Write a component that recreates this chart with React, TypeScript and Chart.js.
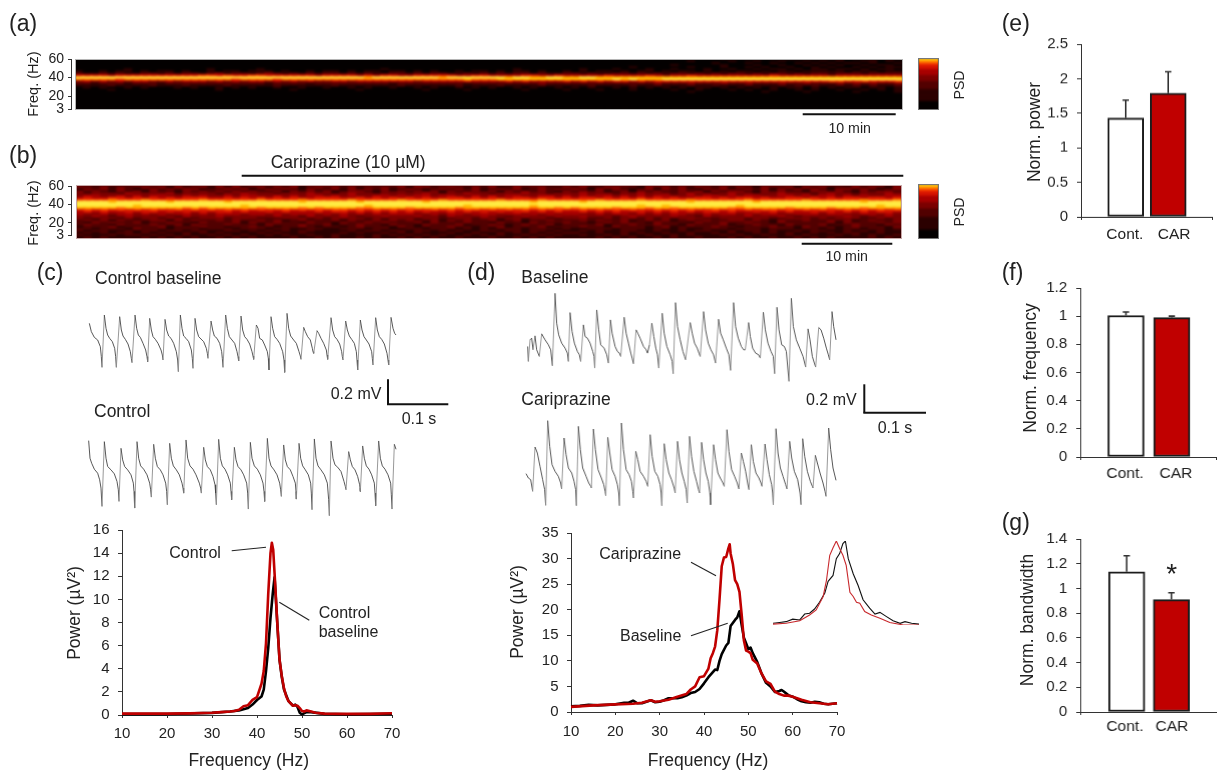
import React, { useEffect, useRef } from "react";
import { Chart, registerables } from "chart.js";

Chart.register(...registerables);

const FONT = '"Liberation Sans", Arial, sans-serif';
const INK = "#222";
const RED = "#c00000";

// ---------- (a), (b) spectrograms: PSD level 0-9 per frequency row (top = 60 Hz) and time column ----------
const psdColors = ["#040000", "#2c0000", "#520000", "#7c0000", "#a80000", "#d61400", "#f23400", "#ff7400", "#ffb400", "#ffec44"];
const spectrogramA = [
  "0000000000 0000000000 0000000000 0000000000 0000000000 0000000000 0000000000 0000000010 0100101101 0110101011",
  "0000000000 0000000000 0000000000 0000000000 0000000000 0000000000 0000000000 0000100001 0010010010 1010011010",
  "0000000000 0000000000 0000000000 0000000000 0000000000 0000000000 0000000000 0000000100 0100100101 0101101001",
  "0000000000 0000000000 0000000000 0000000000 0000000000 0000000000 0000000000 0010000010 0010010010 1010010110",
  "0000000000 0000000000 0000000000 0000000000 0000000000 0000000000 0000000100 0000100010 0101001001 0100101011",
  "0000001000 0000001000 0010000000 0000000100 0000000000 0001000000 0100010001 0010001001 0010110101 1011010110",
  "1001011010 1101001011 0111010010 1101011011 0101001011 0101101001 0101101011 0101101010 1101011011 1110111011",
  "2112121122 1212212312 2123212121 2212121122 1212211212 1212212112 2121122121 2122121212 2121221212 2122212222",
  "5555455555 5555566565 5665555554 5555454554 4555554455 4444554454 4444544445 4344544444 4444544444 4344444444",
  "9999999999 9999999999 9999999999 9999989999 9999899999 9989988998 8998888888 8888888888 8888888888 8888888888",
  "7777767777 7777777776 7777677777 7777777777 7777777877 7888888888 8888898988 8999999999 9999999999 9999999999",
  "3434343443 3434443434 3443434343 3443444444 4344444544 4454544445 4545455454 5555555555 5555555555 5665565556",
  "2212221222 1222222222 2221222212 2222222212 2222222122 2222223222 2222222222 3222322232 2322232232 2232323223",
  "1111211112 1112111121 1111211111 1211111112 1111112111 1211112111 1121111211 2111211211 1211121212 1121212112",
  "0101001010 0010100101 0100100100 1001010010 0101001010 1001010010 1010010101 0101011010 1010101101 0101101101",
  "0000100000 0000000100 0000001000 0000100000 0010000100 0000100001 0001000100 0010010001 0100100101 0010010101",
  "0000000000 0000000000 0000000000 0000000000 0000000000 0000000000 0000000000 0000100000 0001000010 0000100001",
  "",
  "",
  "",
  "",
  "",
  "",
  "",
  "",
];
const spectrogramB = [
  "2312312323 2231322313 1323223132 3212332123 2321323321 3213232132 2331223213 3212323123 2312332123 2321322313",
  "3223132232 3132231323 2231323123 2323122323 1332232132 3123223213 2312332213 2323132231 3213223132 3122323213",
  "1323232123 2323312232 3123232132 2313232312 3212323231 2323123232 3213232123 1323213232 2323132323 2133232123",
  "3232132313 2213232323 2322313232 3123321323 2323132232 3132323213 2323123132 3223231323 3213232213 3232132332",
  "3233324333 3423333233 4333233343 3234332333 3343233433 2333433233 3433323343 3323433234 3323343332 3433233343",
  "3443343434 4334343343 4433434344 3434334434 3443443343 4344334434 3434434343 4433434434 3443344343 4434343344",
  "4544554545 4545554454 5454545445 5544545454 5454455454 5445545545 4554545454 5454455454 5545445545 4545545545",
  "6666766676 6666676666 6676666766 6667666667 6666766666 6766667666 6667666676 6666766666 6766666676 6666676667",
  "9999899999 9899999989 9999999899 9999899999 9989999999 9999989999 9899999999 9999899999 9989999999 9999989999",
  "9999999999 9999999999 9999999999 9999999999 9999999999 9999999999 9999999999 9999999999 9999999999 9999999999",
  "9999999899 9999999999 8999999999 9999989999 9999999899 9999989999 9999999989 9899999999 8999999999 9999999899",
  "8888878888 8887878888 8878888787 8888778888 7888887888 8888878878 7888878887 8878888887 7888887888 8788878888",
  "5656565656 5565656565 6565565656 5665656565 6556565665 6565656565 5656565655 6565655656 5656656565 6556565656",
  "4545445455 4545454554 5445454445 4554545454 5454454545 4545545454 4545454454 5454545545 4454545445 4545454554",
  "4334344343 4344343444 3443434443 4343434344 4334344344 4344343434 4334344343 4344334344 3434433444 3443344343",
  "3343234333 3324333433 3333433243 3343233433 3433243334 3323433343 3433323433 3343324333 3433343233 3334323343",
  "3223323233 2332233323 3322233323 2333323233 3233223323 3233233223 3322323323 2323332233 3233223332 3233322323",
  "2323132223 3132322323 2232312322 2313223232 3223132322 3123122322 2323223123 2312323223 3232132232 2323123223",
  "2132322312 2322132223 1322322132 2132232322 2313222322 1322132223 2212323221 3222132232 2322132222 2313222323",
  "2322132223 2231322232 2213222322 3122322132 2132223122 3212322312 2223122322 3221322231 2232213222 3122322132",
  "1222312222 3122232212 2322122321 2212322213 2122232212 2312223122 2322132221 2312222322 1222322132 2212322213",
  "2212221322 2122212221 2221221122 1122212211 2212221212 1222122212 1122212221 2212112221 2221222122 1212212212",
  "2122112122 1221221122 1212121221 1112122122 1221212112 2122122121 1212112211 2112122112 1221211212 2112121211",
  "1212122121 2112121211 1121211211 1121211212 1211121121 1212121212 2112112121 1211211212 1121212112 1212211211",
  "2111212212 1212112121 2112121121 1211112121 2121211212 1211212121 1211212112 1121211121 2112112121 1121212112",
  "1212111121 2121211212 1211112112 1211212112 1212112111 2112121211 1112121211 2121121112 1211211212 1211112121",
];
const colorbarLevels = ["9", "8", "7", "6", "5", "5", "4", "4", "4", "3", "3", "3", "2", "2", "2", "2", "1", "1", "1", "1", "1", "1", "0", "0", "0", "0"];
const freqTicks = [60, 40, 20];
const freqTickLabels = ["60", "40", "20", "3"];

// ---------- (c), (d) field-potential traces: [sample, amplitude counts] pairs ----------
const traceControlBaseline = [
  207,210,213,185,222,168,232,160,240,140,243,110,245,78,
  252,235,257,195,262,175,268,165,276,155,283,135,286,110,288,78,
  298,230,303,190,308,172,315,162,323,148,330,125,333,105,335,92,
  344,235,349,195,354,175,360,168,368,150,376,130,380,110,382,95,
  388,225,393,190,398,170,405,162,413,150,422,130,426,115,428,100,
  434,222,439,190,445,172,452,165,460,150,468,125,472,100,474,65,
  480,235,485,195,490,172,497,165,505,155,513,130,516,105,518,75,
  524,225,529,190,535,170,542,163,550,155,558,135,561,120,563,105,
  572,217,577,190,582,172,590,165,598,150,604,125,606,105,608,78,
  616,235,621,195,627,170,635,160,643,150,650,125,653,110,655,97,
  662,232,667,190,673,170,680,162,688,148,695,125,698,112,700,102,
  708,205,713,195,718,165,726,160,733,145,741,125,744,105,746,70,
  752,230,757,195,763,170,770,162,778,150,787,125,791,100,793,63,
  800,240,805,195,811,172,820,160,828,150,836,125,840,112,842,102,
  850,198,855,185,862,170,870,160,876,135,878,125,880,120,
  890,188,895,180,902,165,910,150,918,130,920,115,922,102,
  932,227,937,190,943,170,950,162,958,148,964,125,966,110,968,100,
  976,217,981,190,987,172,994,162,1002,150,1008,125,1010,100,1012,70,
  1020,220,1025,190,1031,170,1038,160,1046,148,1054,125,1056,105,1058,85,
  1066,227,1071,190,1077,170,1084,162,1092,148,1100,120,1103,100,1105,85,
  1112,228,1118,195,1123,180,1127,175,
];
const traceControl = [
  205,258,209,205,214,190,222,172,232,160,238,140,242,115,245,60,
  252,255,257,205,262,180,272,170,282,158,290,135,294,110,296,75,
  302,235,307,200,313,180,322,170,332,155,339,130,341,105,343,55,
  350,255,355,205,361,182,370,172,380,155,388,130,391,110,393,88,
  400,247,405,205,411,180,420,170,428,155,436,130,439,105,441,65,
  448,250,453,205,459,182,468,170,477,155,485,130,488,115,490,100,
  497,260,502,205,509,182,518,172,527,155,537,130,541,115,543,100,
  550,238,555,200,561,180,570,170,578,150,584,125,586,100,588,65,
  595,262,600,205,606,182,614,172,622,155,630,130,632,105,634,80,
  642,238,647,200,653,180,662,170,670,155,679,130,682,100,684,52,
  690,253,695,205,702,182,711,172,720,155,728,130,731,105,733,75,
  741,265,746,205,752,182,761,170,770,155,778,130,781,110,783,90,
  790,245,795,200,801,180,810,170,818,150,825,130,827,105,828,82,
  836,250,841,205,847,182,855,170,864,155,871,130,873,100,875,50,
  882,263,887,205,893,182,902,170,912,155,921,130,925,80,927,32,
  932,257,938,205,944,185,952,178,962,165,971,135,975,120,977,110,
  985,225,990,200,996,180,1004,170,1012,150,1018,125,1019,115,1020,105,
  1027,242,1032,205,1038,182,1046,172,1054,155,1062,130,1064,100,1066,62,
  1075,257,1080,205,1086,182,1094,172,1103,155,1111,130,1113,95,1115,52,
  1122,247,1127,232,
];
const traceBaseline = [
  203,140,205,95,210,160,215,165,219,130,225,172,230,130,238,110,245,178,255,160,265,145,272,130,277,82,
  285,300,290,210,296,175,305,150,315,135,322,120,325,95,
  330,242,336,185,343,150,352,125,358,115,362,95,
  370,205,375,170,382,165,390,150,398,125,402,110,404,75,
  410,250,416,190,422,145,432,135,440,115,445,90,
  451,220,456,180,465,140,472,125,478,120,482,110,
  492,228,498,180,505,150,512,120,516,105,520,88,
  528,190,533,180,540,165,550,140,558,130,562,120,
  568,145,575,210,581,170,587,135,592,115,596,75,
  606,240,612,180,620,140,630,115,636,95,639,58,
  646,272,652,200,660,160,668,125,673,110,676,100,
  690,212,696,180,703,150,711,135,717,118,720,110,
  730,245,736,190,744,150,752,130,760,115,766,90,
  775,222,781,180,789,160,798,135,806,115,811,68,
  820,272,826,200,834,165,843,140,850,130,855,130,
  865,212,870,170,877,135,886,120,895,115,900,105,
  909,243,915,190,923,150,932,125,939,110,943,58,
  950,258,956,190,964,145,972,140,978,125,986,35,
  993,285,999,200,1008,160,1018,135,1028,110,1036,78,
  1043,193,1049,160,1056,110,1062,90,1066,78,
  1075,197,1082,190,1090,165,1098,135,1104,115,1108,100,
  1115,245,1120,200,1127,160,
];
const traceCariprazine = [
  198,158,205,145,212,140,218,105,225,238,232,220,240,180,248,140,254,110,257,63,
  263,317,269,240,276,185,285,165,295,150,302,130,305,112,
  312,265,318,215,325,175,335,160,342,135,347,110,349,62,
  355,300,361,230,368,175,378,150,386,130,392,120,394,115,
  400,292,406,230,414,170,424,145,431,125,435,105,437,92,
  443,267,449,220,456,170,465,150,472,125,476,100,478,62,
  484,310,490,230,498,170,507,155,514,135,518,105,520,85,
  527,225,533,200,540,165,550,150,558,135,563,120,
  570,275,576,210,584,165,593,150,600,125,603,100,605,62,
  612,248,618,200,626,160,634,140,642,115,645,100,
  652,255,658,200,665,160,672,135,678,110,681,70,
  688,270,694,210,701,165,709,135,715,110,718,100,
  724,252,730,200,737,160,744,135,749,100,751,65,
  760,245,766,200,773,160,780,145,788,130,792,120,
  800,290,806,225,814,170,823,150,831,130,836,112,
  843,220,849,195,856,165,862,130,866,110,
  873,245,879,195,887,160,896,145,902,130,905,120,
  914,247,920,200,927,155,934,125,937,100,939,65,
  947,293,953,220,960,175,968,150,976,125,980,112,
  988,255,994,205,1002,165,1012,140,1019,100,1022,65,
  1027,263,1033,210,1041,165,1050,135,1056,120,1058,115,
  1065,213,1071,190,1079,160,1088,130,1094,105,1097,90,
  1105,295,1111,230,1118,175,1127,138,
];

// ---------- (c) power spectra ----------
const cFreqRed = [10,15,20,25,28,30,32,34,35,36,37,38,39,40,41,41.5,42,42.5,43,43.3,43.6,44,44.5,45,45.5,46,46.5,47,48,48.5,49,49.5,50,50.5,51,52,53,55,60,65,70];
const cPowerRed = [0.12,0.12,0.12,0.14,0.17,0.2,0.25,0.3,0.35,0.45,0.75,0.85,1.3,1.55,2.7,3.8,6.2,10.5,14,14.9,14.3,11.6,8,4.8,3.4,2.3,1.6,1.2,0.8,0.85,0.8,0.6,0.35,0.3,0.4,0.3,0.2,0.12,0.1,0.1,0.15];
const cFreqBlack = [10,20,30,34,36,37,38,39,40,41,41.5,42,42.5,43,43.5,43.9,44.2,44.5,45,45.5,46,47,48,48.5,49,49.5,50,51,52,55,60,70];
const cPowerBlack = [0.08,0.08,0.18,0.3,0.4,0.5,0.6,0.9,1.3,1.6,2.2,3.8,5.8,8.4,10.5,11.9,10,8,4.8,3.3,2.2,1.2,0.8,0.9,0.7,0.2,0.05,0.25,0.25,0.1,0.05,0.1];

// ---------- (d) power spectra ----------
const dFreqBaseline = [10,12,14,16,18,20,22,23,24,25,26,27,28,29,30,31,32,33,34,35,36,37,38,39,40,41,42,42.5,43,43.5,44,45,45.5,46,47,47.5,48,48.5,49,50,50.5,51,52,53,54,55,56,57,57.5,58,59,60,61,62,63,64,65,66,67,68,69,70];
const dPowerBaseline = [1.1,1.2,1.4,1.3,1.4,1.5,1.8,1.8,2.2,1.7,1.7,2,2.3,1.9,2,2.3,2.7,2.7,2.7,2.9,3.2,3.7,3.9,4.5,5.6,6.8,7.8,8.3,8.2,10,11.3,13,13.5,16.8,18,18.5,19.7,17,14.5,12.3,12.6,11.5,9.8,7.5,5.7,5,3.9,4.1,4.3,4,3.3,3,2.5,2.1,1.9,1.8,2,1.9,1.6,1.5,1.6,1.7];
const dFreqCar = [10,15,20,24,26,28,29,30,32,34,36,37,38,39,40,41,41.5,42,42.5,43,43.5,44,44.5,45,45.5,45.8,46,46.5,47,47.5,48,48.5,49,49.5,50,50.5,51,52,53,54,55,56,57,58,59,60,62,64,66,68,70];
const dPowerCar = [1,1.3,1.5,1.6,1.8,2.3,2,2.1,2.4,3,3.5,4.4,5,6.8,7,8.5,10.5,11.5,12.8,16,22,28.5,30.2,30.3,32,32.8,31,29,25.8,25,23.5,19,14,12,11.8,11.5,10.2,9.5,7.5,6,5.5,4,3.5,3.2,3.2,3,2.4,1.9,1.7,1.5,1.7];

// ---------- (d) inset: normalised spectra ----------
const insetFreqBlack = [30.4,32,33.6,35.2,36.9,38.1,39.3,40.5,41.7,43,43.8,45,45.8,46.6,47.4,48,48.7,49.9,51.1,52.3,53.9,55.2,56.4,58,59.6,61.3,62.5,64.1,65.9];
const insetPowerBlack = [0.02,0.03,0.04,0.07,0.06,0.13,0.14,0.19,0.27,0.38,0.52,0.59,0.79,0.85,0.97,1,0.79,0.61,0.47,0.3,0.2,0.13,0.15,0.1,0.05,0.02,0.04,0.02,0.01];
const insetFreqRed = [30.4,33.6,36.9,39.3,40.9,42.6,43.4,44.2,45,45.8,46.6,47.4,48.2,49.1,49.9,50.7,51.5,52.7,54.3,56.4,58.8,62.1,65.9];
const insetPowerRed = [0.01,0.02,0.05,0.12,0.18,0.34,0.53,0.83,0.92,1,0.91,0.83,0.71,0.39,0.34,0.27,0.26,0.16,0.12,0.08,0.03,0,0];

// ---------- (e), (f), (g) bars ----------
const barNames = ["Cont.", "CAR"];
const normPower = [1.43, 1.79];
const normPowerTop = [1.69, 2.1];
const normFrequency = [1.005, 0.99];
const normFrequencyTop = [1.03, 1.0];
const normBandwidth = [1.135, 0.91];
const normBandwidthTop = [1.265, 0.965];

const zip = (xs: number[], ys: number[]) => xs.map((x, i) => ({ x, y: ys[i] }));
const pairs = (flat: number[]) => {
  const out: { x: number; y: number }[] = [];
  for (let i = 0; i + 1 < flat.length; i += 2) out.push({ x: flat[i], y: flat[i + 1] });
  return out;
};
const fmt = (v: number) => String(Number(Number(v).toFixed(2)));

type Rect = { x: number; y: number; w: number; h: number };
type Margin = { l: number; r: number; t: number; b: number };
const NOM: Margin = { l: 0, r: 0, t: 0, b: 0 };

function ChartBox({ rect, m = NOM, config, style }: { rect: Rect; m?: Margin; config: any; style?: any }) {
  const ref = useRef<HTMLCanvasElement>(null);
  useEffect(() => {
    const chart = new Chart(ref.current as HTMLCanvasElement, config);
    return () => chart.destroy();
  }, []);
  return (
    <canvas
      ref={ref}
      width={rect.w + m.l + m.r}
      height={rect.h + m.t + m.b}
      style={{ position: "absolute", display: "block", left: rect.x - m.l, top: rect.y - m.t, width: rect.w + m.l + m.r, height: rect.h + m.t + m.b, ...style }}
    />
  );
}

const baseOptions = (m: Margin, bottomPad = 0) => ({
  responsive: false,
  animation: false,
  events: [],
  devicePixelRatio: 1,
  layout: { autoPadding: false, padding: { top: m.t, right: m.r, left: 0, bottom: bottomPad } },
  plugins: { legend: { display: false }, tooltip: { enabled: false }, title: { display: false } },
});

const axisCommon = {
  border: { display: true, color: "#333", width: 1 },
  grid: { display: true, drawOnChartArea: false, drawTicks: true, tickLength: 4, color: "#333", offset: false },
};

const tickFont = { family: FONT, size: 15 };

function heatConfig(rows: string[]) {
  const parsed = rows.map((r) => r.replace(/ /g, ""));
  const cols = Math.max(...parsed.map((r) => r.length));
  const labels = Array.from({ length: cols }, (_, i) => i);
  const datasets = parsed
    .slice()
    .reverse()
    .map((row) => ({
      data: labels.map(() => 1),
      backgroundColor: labels.map((i) => psdColors[Number(row[i] ?? "0")]),
      borderWidth: 0,
      inflateAmount: 1,
      barPercentage: 1,
      categoryPercentage: 1,
    }));
  return {
    type: "bar",
    data: { labels, datasets },
    options: {
      ...baseOptions(NOM),
      scales: {
        x: { display: false, stacked: true },
        y: { display: false, stacked: true, min: 0, max: parsed.length },
      },
    },
  };
}

function freqAxisConfig(axisMin: number, m: Margin) {
  return {
    type: "scatter",
    data: { datasets: [{ data: [] }] },
    options: {
      ...baseOptions(m, m.b),
      scales: {
        x: { display: false, min: 0, max: 1 },
        y: {
          min: axisMin,
          max: 60,
          position: "left",
          afterFit: (s: any) => { s.width = m.l; },
          afterBuildTicks: (s: any) => { s.ticks = [...freqTicks, axisMin].map((value) => ({ value })); },
          ticks: {
            autoSkip: false,
            color: INK,
            padding: 4,
            font: { family: FONT, size: 14 },
            callback: (_: any, i: number) => freqTickLabels[i],
          },
          ...axisCommon,
          grid: { ...axisCommon.grid, tickLength: 3 },
        },
      },
    },
  };
}

function traceConfig(flat: number[], xMin: number, xMax: number, yMin: number, yMax: number) {
  return {
    type: "scatter",
    data: {
      datasets: [
        {
          data: pairs(flat),
          showLine: true,
          borderColor: "#444",
          borderWidth: 0.9,
          pointRadius: 0,
          clip: false,
          segment: { borderColor: (c: any) => (c.p1.parsed.y - c.p0.parsed.y > 40 ? "#8c8c8c" : "#444") },
        },
      ],
    },
    options: {
      ...baseOptions(NOM),
      scales: { x: { display: false, min: xMin, max: xMax }, y: { display: false, min: yMin, max: yMax } },
    },
  };
}

function spectrumConfig(series: { d: any[]; color: string }[], m: Margin, yMax: number, yStep: number, xPad: number) {
  return {
    type: "scatter",
    data: {
      datasets: series.map((s) => ({ data: s.d, showLine: true, borderColor: s.color, borderWidth: 2.6, borderJoinStyle: "round", pointRadius: 0, clip: false })),
    },
    options: {
      ...baseOptions(m),
      scales: {
        x: {
          type: "linear",
          min: 10,
          max: 70,
          afterFit: (s: any) => { s.height = m.b; },
          ticks: { stepSize: 10, color: INK, font: tickFont, padding: xPad, maxRotation: 0 },
          ...axisCommon,
          grid: { ...axisCommon.grid, tickLength: 3 },
        },
        y: {
          min: 0,
          max: yMax,
          afterFit: (s: any) => { s.width = m.l; },
          ticks: { stepSize: yStep, color: INK, font: tickFont, padding: 8.5, callback: (v: number) => fmt(v) },
          ...axisCommon,
        },
      },
    },
  };
}

function insetConfig() {
  return {
    type: "scatter",
    data: {
      datasets: [
        { data: zip(insetFreqRed, insetPowerRed), showLine: true, borderColor: "#c8282c", borderWidth: 1.1, pointRadius: 0, clip: false },
        { data: zip(insetFreqBlack, insetPowerBlack), showLine: true, borderColor: "#111", borderWidth: 1.1, pointRadius: 0, clip: false },
      ],
    },
    options: {
      ...baseOptions(NOM),
      scales: { x: { display: false, min: 30.4, max: 65.9 }, y: { display: false, min: 0, max: 1 } },
    },
  };
}

function barConfig(values: number[], tops: number[], m: Margin, xMin: number, xMax: number, labelPos: number[], yMax: number, yStep: number, labelPad: number) {
  const errorBars = {
    id: "errorBars",
    afterDatasetsDraw(chart: any) {
      const { ctx, scales } = chart;
      ctx.save();
      ctx.strokeStyle = "#333";
      ctx.lineWidth = 1.6;
      values.forEach((v, i) => {
        const x = scales.x.getPixelForValue(i + 1);
        const y0 = scales.y.getPixelForValue(v);
        const y1 = scales.y.getPixelForValue(tops[i]);
        ctx.beginPath();
        ctx.moveTo(x, y0);
        ctx.lineTo(x, y1);
        ctx.moveTo(x - 3.2, y1);
        ctx.lineTo(x + 3.2, y1);
        ctx.stroke();
      });
      ctx.restore();
    },
  };
  return {
    type: "bar",
    data: {
      datasets: [
        {
          data: values.map((y, i) => ({ x: i + 1, y })),
          backgroundColor: ["#ffffff", RED],
          borderColor: "#1c1c1c",
          borderWidth: 2,
          borderSkipped: false,
          barThickness: 36,
        },
      ],
    },
    plugins: [errorBars],
    options: {
      ...baseOptions(m),
      scales: {
        x: {
          type: "linear",
          offset: false,
          min: xMin,
          max: xMax,
          afterFit: (s: any) => { s.height = m.b; },
          afterBuildTicks: (s: any) => { s.ticks = [xMin, labelPos[0], labelPos[1], xMax].map((value) => ({ value })); },
          ticks: {
            autoSkip: false,
            maxRotation: 0,
            color: INK,
            font: { family: FONT, size: 15.5 },
            padding: labelPad,
            callback: (_: any, i: number) => (i === 1 || i === 2 ? barNames[i - 1] : ""),
          },
          ...axisCommon,
          grid: {
            ...axisCommon.grid,
            tickLength: 3,
            tickColor: (c: any) => (c.index === 0 || c.index === 3 ? "#333" : "rgba(0,0,0,0)"),
          },
        },
        y: {
          min: 0,
          max: yMax,
          afterFit: (s: any) => { s.width = m.l; },
          ticks: { stepSize: yStep, color: INK, font: tickFont, padding: 9, callback: (v: number) => fmt(v) },
          ...axisCommon,
        },
      },
    },
  };
}

function Txt({ x, y, size = 17.5, anchor = "left", rotate = false, children }: any) {
  const shift = anchor === "center" ? "-50%" : "0";
  const transform = rotate ? "translate(-50%,-50%) rotate(-90deg)" : `translate(${shift},-50%)`;
  return (
    <div style={{ position: "absolute", left: x, top: y, transform, fontFamily: FONT, fontSize: size, color: INK, whiteSpace: "nowrap", lineHeight: 1 }}>
      {children}
    </div>
  );
}

function Heat({ rect, rows, bg, border }: { rect: Rect; rows: string[]; bg: string; border: string }) {
  return (
    <div style={{ position: "absolute", left: rect.x, top: rect.y, width: rect.w, height: rect.h, overflow: "hidden", background: bg }}>
      <ChartBox rect={{ x: 0, y: 0, w: rect.w, h: rect.h }} config={heatConfig(rows)} style={{ filter: "blur(0.8px)" }} />
      <div style={{ position: "absolute", inset: 0, border: `1px solid ${border}`, boxSizing: "border-box" }} />
    </div>
  );
}

const segs = [
  // scale bars and drug bar
  [241.7, 175.7, 903.3, 175.7, 2, "#111"],
  [802.7, 114.3, 895.7, 114.3, 2, "#111"],
  [801.7, 243.7, 892.3, 243.7, 2, "#111"],
  [388, 379.3, 388, 404.3, 2, "#111"],
  [387, 404.3, 448.3, 404.3, 2, "#111"],
  [864.3, 384.3, 864.3, 412.7, 2, "#111"],
  [863.3, 412.7, 926, 412.7, 2, "#111"],
  // call-out lines
  [231.7, 550.7, 266, 547.3, 1.1, "#222"],
  [279.3, 602.3, 309.3, 620.3, 1.1, "#222"],
  [691, 562.3, 716, 575.7, 1.1, "#222"],
  [691, 635.7, 727.7, 623.3, 1.1, "#222"],
] as const;

const mC: Margin = { l: 50, r: 24, t: 24, b: 30 };
const mE: Margin = { l: 36, r: 8, t: 24, b: 28 };
const mF: Margin = { l: 40, r: 8, t: 24, b: 28 };
const mFreq: Margin = { l: 38, r: 1, t: 20, b: 20 };

export default function App() {
  return (
    <div style={{ position: "absolute", left: 0, top: 0, width: 1217, height: 771, overflow: "hidden", background: "#fff" }}>
      {/* spectrograms */}
      <Heat rect={{ x: 75, y: 58.5, w: 828, h: 51 }} rows={spectrogramA} bg="#040000" border="#b5b5b5" />
      <Heat rect={{ x: 76, y: 185, w: 826, h: 53.5 }} rows={spectrogramB} bg="#380000" border="#c8a8a8" />
      <Heat rect={{ x: 918, y: 58, w: 21, h: 51.5 }} rows={colorbarLevels} bg="#040000" border="#777" />
      <Heat rect={{ x: 918, y: 184, w: 21, h: 54.5 }} rows={colorbarLevels} bg="#040000" border="#777" />
      <ChartBox rect={{ x: 71, y: 59, w: 1, h: 50 }} m={mFreq} config={freqAxisConfig(6, mFreq)} />
      <ChartBox rect={{ x: 71, y: 185.7, w: 1, h: 49.3 }} m={mFreq} config={freqAxisConfig(6.7, mFreq)} />

      {/* traces */}
      <ChartBox rect={{ x: 86.67, y: 310, w: 310, h: 65 }} config={traceConfig(traceControlBaseline, 200, 1130, 55, 250)} />
      <ChartBox rect={{ x: 86.67, y: 435, w: 310, h: 83.33 }} config={traceConfig(traceControl, 200, 1130, 25, 275)} />
      <ChartBox rect={{ x: 525, y: 290, w: 311.67, h: 93.33 }} config={traceConfig(traceBaseline, 195, 1130, 30, 310)} />
      <ChartBox rect={{ x: 525, y: 418.33, w: 311.67, h: 90 }} config={traceConfig(traceCariprazine, 195, 1130, 55, 325)} />

      {/* spectra */}
      <ChartBox
        rect={{ x: 121.7, y: 530, w: 270.6, h: 185.3 }}
        m={mC}
        config={spectrumConfig([{ d: zip(cFreqRed, cPowerRed), color: RED }, { d: zip(cFreqBlack, cPowerBlack), color: "#000" }], mC, 16, 2, 7)}
      />
      <ChartBox
        rect={{ x: 571.3, y: 532.7, w: 266, h: 179.6 }}
        m={mC}
        config={spectrumConfig([{ d: zip(dFreqCar, dPowerCar), color: RED }, { d: zip(dFreqBaseline, dPowerBaseline), color: "#000" }], mC, 35, 5, 8)}
      />
      <ChartBox rect={{ x: 773, y: 540.7, w: 146, h: 84.3 }} config={insetConfig()} />

      {/* bars */}
      <ChartBox rect={{ x: 1081, y: 44, w: 131, h: 172.7 }} m={mE} config={barConfig(normPower, normPowerTop, mE, -0.052, 3.03, [0.98, 2.14], 2.5, 0.5, 5)} />
      <ChartBox rect={{ x: 1080.3, y: 288, w: 135.7, h: 169.3 }} m={mF} config={barConfig(normFrequency, normFrequencyTop, mF, 0.002, 2.965, [0.98, 2.09], 1.2, 0.2, 4)} />
      <ChartBox rect={{ x: 1080.3, y: 538.7, w: 136.7, h: 173.3 }} m={mF} config={barConfig(normBandwidth, normBandwidthTop, mF, -0.04, 3.02, [0.96, 2.01], 1.4, 0.2, 2)} />

      <svg width={1217} height={771} style={{ position: "absolute", left: 0, top: 0, pointerEvents: "none" }}>
        {segs.map((s, i) => (
          <line key={i} x1={s[0]} y1={s[1]} x2={s[2]} y2={s[3]} strokeWidth={s[4]} stroke={s[5]} />
        ))}
      </svg>

      {/* panel letters */}
      <Txt x={9} y={22.7} size={23}>(a)</Txt>
      <Txt x={9} y={155} size={23}>(b)</Txt>
      <Txt x={36.7} y={272} size={23}>(c)</Txt>
      <Txt x={467.3} y={272} size={23}>(d)</Txt>
      <Txt x={1001.7} y={23} size={23}>(e)</Txt>
      <Txt x={1001.7} y={272} size={23}>(f)</Txt>
      <Txt x={1001.7} y={521.7} size={23}>(g)</Txt>

      {/* a, b */}
      <Txt x={32.7} y={84} size={14.5} rotate>Freq. (Hz)</Txt>
      <Txt x={33} y={213.3} size={14.5} rotate>Freq. (Hz)</Txt>
      <Txt x={270.7} y={163.3}>Cariprazine (10 µM)</Txt>
      <Txt x={849.7} y={127.7} size={14.2} anchor="center">10 min</Txt>
      <Txt x={846.7} y={255.5} size={14.2} anchor="center">10 min</Txt>
      <Txt x={959} y={85} size={14.2} rotate>PSD</Txt>
      <Txt x={959} y={211.7} size={14.2} rotate>PSD</Txt>

      {/* c, d labels */}
      <Txt x={95} y={279}>Control baseline</Txt>
      <Txt x={94} y={411.7}>Control</Txt>
      <Txt x={330.7} y={394.3} size={16}>0.2 mV</Txt>
      <Txt x={419} y={419} size={16} anchor="center">0.1 s</Txt>
      <Txt x={521.3} y={278.3}>Baseline</Txt>
      <Txt x={521.3} y={400}>Cariprazine</Txt>
      <Txt x={806} y={400} size={16}>0.2 mV</Txt>
      <Txt x={895} y={427.7} size={16} anchor="center">0.1 s</Txt>

      <Txt x={169.3} y={552.7} size={16}>Control</Txt>
      <Txt x={318.7} y={613.3} size={16}>Control</Txt>
      <Txt x={318.7} y={632.3} size={16}>baseline</Txt>
      <Txt x={599.3} y={553.7} size={16}>Cariprazine</Txt>
      <Txt x={620} y={636} size={16}>Baseline</Txt>

      <Txt x={75} y={612.7} rotate>Power (µV²)</Txt>
      <Txt x={248.7} y={760.5} anchor="center">Frequency (Hz)</Txt>
      <Txt x={518.3} y={611.7} rotate>Power (µV²)</Txt>
      <Txt x={708} y={760.5} anchor="center">Frequency (Hz)</Txt>

      <Txt x={1035} y={131.7} rotate>Norm. power</Txt>
      <Txt x={1030.7} y={368} rotate>Norm. frequency</Txt>
      <Txt x={1028.3} y={620} rotate>Norm. bandwidth</Txt>
      <Txt x={1171.7} y={574} size={28} anchor="center">*</Txt>
    </div>
  );
}
